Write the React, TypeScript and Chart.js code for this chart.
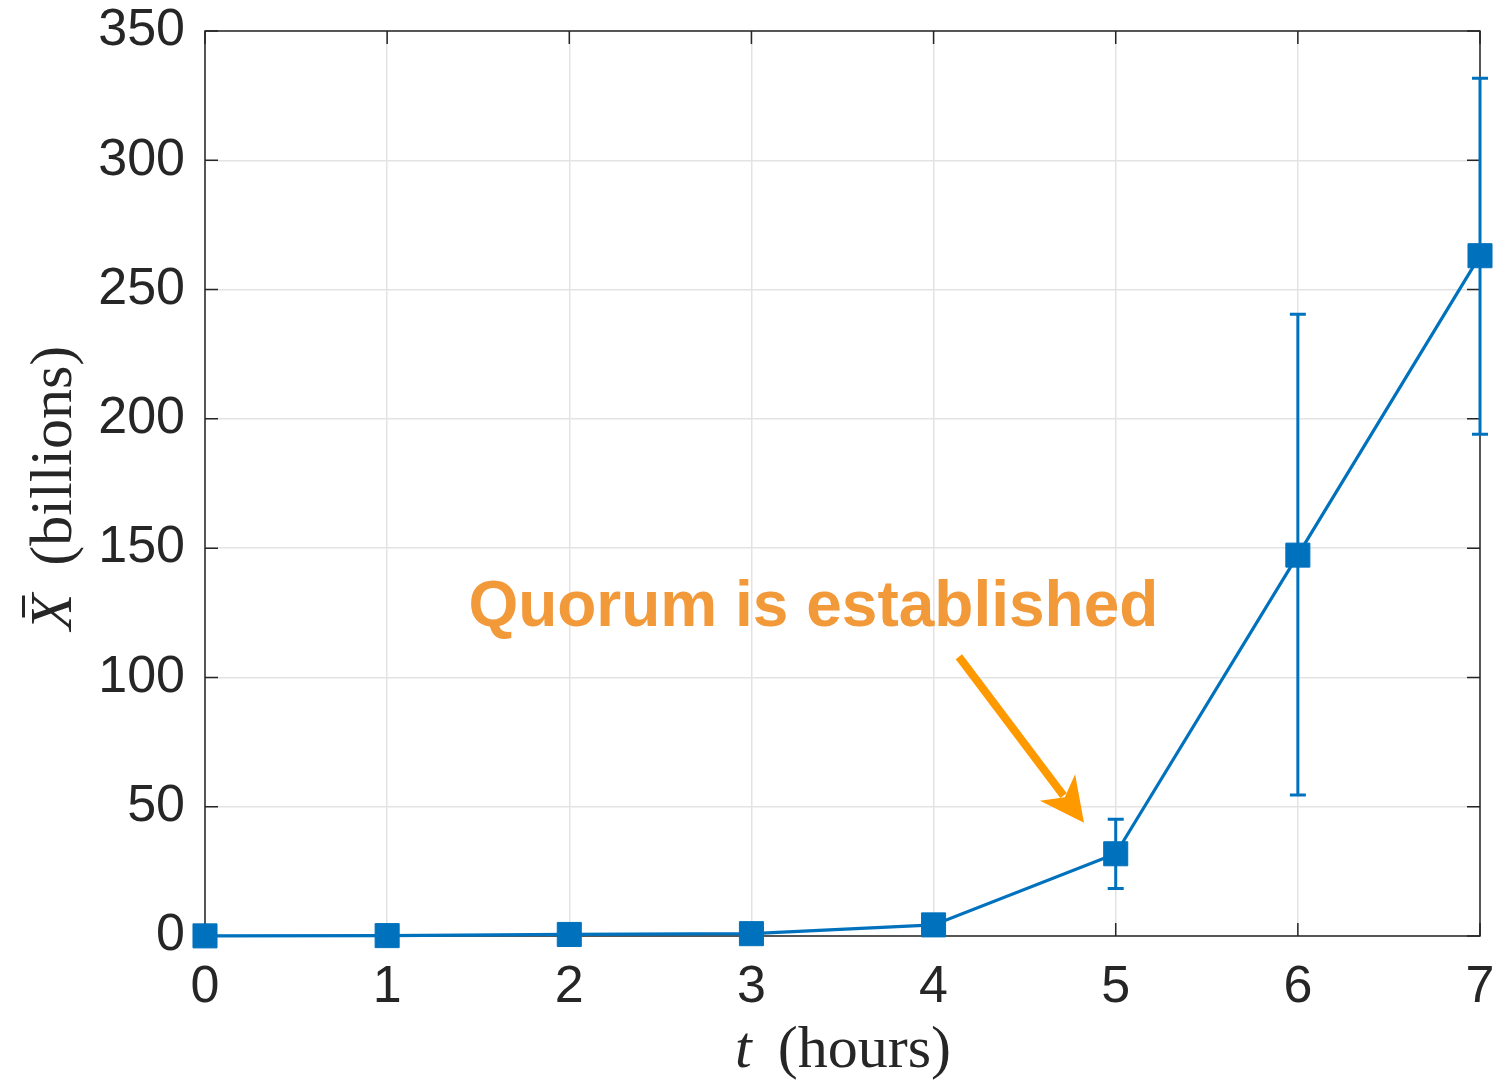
import React, { useEffect, useRef } from 'react';
import { Chart, registerables } from 'chart.js';

Chart.register(...registerables);

// Mean population (billions) sampled every hour, with error bar bounds
const hours = [0, 1, 2, 3, 4, 5, 6, 7];
const meanBillions = [0.05, 0.15, 0.6, 0.9, 4.3, 31.8, 147.3, 263.1];
const errLower: (number | null)[] = [null, null, null, null, null, 18.4, 54.5, 194.0];
const errUpper: (number | null)[] = [null, null, null, null, null, 45.2, 240.5, 331.7];

const xTicks = [0, 1, 2, 3, 4, 5, 6, 7];
const yTicks = [0, 50, 100, 150, 200, 250, 300, 350];

// Callout: label position and arrow (tail -> tip) in data units
const calloutText = 'Quorum is established';
const calloutLabelAt = { x: 3.34, y: 120.0 };
const calloutTail = { x: 4.139, y: 108.0 };
const calloutTip = { x: 4.826, y: 43.8 };

const BLUE = '#0072BD';
const AXIS = '#262626';
const SANS = '"Liberation Sans", Arial, Helvetica, sans-serif';
const SERIF = '"Liberation Serif", "Times New Roman", serif';

const framePlugin = {
  id: 'frame',
  beforeDatasetsDraw(chart: any) {
    const { ctx, chartArea: a, scales } = chart;
    ctx.save();
    ctx.strokeStyle = AXIS;
    ctx.lineWidth = 1.5;
    ctx.strokeRect(a.left, a.top, a.right - a.left, a.bottom - a.top);
    const tl = 13;
    ctx.beginPath();
    for (const v of xTicks) {
      const x = scales.x.getPixelForValue(v);
      ctx.moveTo(x, a.bottom);
      ctx.lineTo(x, a.bottom - tl);
      ctx.moveTo(x, a.top);
      ctx.lineTo(x, a.top + tl);
    }
    for (const v of yTicks) {
      const y = scales.y.getPixelForValue(v);
      ctx.moveTo(a.left, y);
      ctx.lineTo(a.left + tl, y);
      ctx.moveTo(a.right, y);
      ctx.lineTo(a.right - tl, y);
    }
    ctx.stroke();
    ctx.restore();
  },
};

const errorBarPlugin = {
  id: 'errorBars',
  afterDatasetsDraw(chart: any) {
    const { ctx, scales } = chart;
    ctx.save();
    ctx.strokeStyle = BLUE;
    ctx.lineWidth = 3;
    const cap = 8;
    hours.forEach((h, i) => {
      const lo = errLower[i];
      const hi = errUpper[i];
      if (lo == null || hi == null) return;
      const x = scales.x.getPixelForValue(h);
      const y1 = scales.y.getPixelForValue(lo);
      const y2 = scales.y.getPixelForValue(hi);
      ctx.beginPath();
      ctx.moveTo(x, y1);
      ctx.lineTo(x, y2);
      ctx.moveTo(x - cap, y1);
      ctx.lineTo(x + cap, y1);
      ctx.moveTo(x - cap, y2);
      ctx.lineTo(x + cap, y2);
      ctx.stroke();
    });
    ctx.restore();
  },
};

const calloutPlugin = {
  id: 'callout',
  afterDatasetsDraw(chart: any) {
    const { ctx, scales } = chart;
    const sx = scales.x;
    const sy = scales.y;
    ctx.save();
    // label
    ctx.font = `bold 64px ${SANS}`;
    ctx.fillStyle = '#F2993A';
    ctx.textAlign = 'center';
    ctx.textBaseline = 'alphabetic';
    ctx.fillText(calloutText, sx.getPixelForValue(calloutLabelAt.x), sy.getPixelForValue(calloutLabelAt.y));

    // arrow
    const tx = sx.getPixelForValue(calloutTail.x);
    const ty = sy.getPixelForValue(calloutTail.y);
    const px = sx.getPixelForValue(calloutTip.x);
    const py = sy.getPixelForValue(calloutTip.y);
    const len = Math.hypot(px - tx, py - ty);
    const ux = (px - tx) / len;
    const uy = (py - ty) / len;
    const nx = -uy;
    const ny = ux;
    const headLen = 44;
    const headHalf = 22;
    const notch = 32;
    ctx.strokeStyle = '#FF9900';
    ctx.fillStyle = '#FF9900';
    ctx.lineWidth = 8;
    ctx.beginPath();
    ctx.moveTo(tx, ty);
    ctx.lineTo(px - ux * (notch + 2), py - uy * (notch + 2));
    ctx.stroke();
    ctx.beginPath();
    ctx.moveTo(px, py);
    ctx.lineTo(px - ux * headLen + nx * headHalf, py - uy * headLen + ny * headHalf);
    ctx.lineTo(px - ux * notch, py - uy * notch);
    ctx.lineTo(px - ux * headLen - nx * headHalf, py - uy * headLen - ny * headHalf);
    ctx.closePath();
    ctx.fill();
    ctx.restore();
  },
};

const axisTitlePlugin = {
  id: 'axisTitles',
  afterDraw(chart: any) {
    const { ctx } = chart;
    const size = 60;
    ctx.save();
    ctx.fillStyle = AXIS;
    ctx.textBaseline = 'alphabetic';
    ctx.textAlign = 'left';

    // x title: t (hours)
    const roman = `${size}px ${SERIF}`;
    const italic = `italic ${size}px ${SERIF}`;
    ctx.font = italic;
    const tW = ctx.measureText('t').width;
    ctx.font = roman;
    const hW = ctx.measureText('(hours)').width;
    const gapX = 26;
    const xCenter = 843;
    const xBase = 1067;
    const x0 = xCenter - (tW + gapX + hW) / 2;
    ctx.font = italic;
    ctx.fillText('t', x0, xBase);
    ctx.font = roman;
    ctx.fillText('(hours)', x0 + tW + gapX, xBase);

    // y title: X-bar (billions), rotated
    ctx.font = italic;
    const xW = ctx.measureText('X').width;
    ctx.font = roman;
    const bW = ctx.measureText('(billions)').width;
    const gapY = 28;
    const total = xW + gapY + bW;
    ctx.translate(71, 488);
    ctx.rotate(-Math.PI / 2);
    const u0 = -total / 2;
    ctx.font = italic;
    ctx.fillText('X', u0, 0);
    ctx.fillRect(u0 + xW * 0.35, -49, xW * 0.6, 3);
    ctx.font = roman;
    ctx.fillText('(billions)', u0 + xW + gapY, 0);
    ctx.restore();
  },
};

function fixScale(size: 'width' | 'height', value: number) {
  return (scale: any) => {
    scale[size] = value;
    scale.paddingTop = 0;
    scale.paddingBottom = 0;
    scale.paddingLeft = 0;
    scale.paddingRight = 0;
  };
}

export default function App() {
  const canvasRef = useRef<HTMLCanvasElement | null>(null);

  useEffect(() => {
    const canvas = canvasRef.current;
    if (!canvas) return;
    const tickFont = { family: SANS, size: 52 };
    const chart = new Chart(canvas, {
      type: 'line',
      data: {
        datasets: [
          {
            data: hours.map((h, i) => ({ x: h, y: meanBillions[i] })),
            borderColor: BLUE,
            backgroundColor: BLUE,
            borderWidth: 3.2,
            pointStyle: 'rect',
            pointRadius: 17,
            pointBorderWidth: 1,
            pointBackgroundColor: BLUE,
            pointBorderColor: BLUE,
            tension: 0,
            clip: false as any,
          },
        ],
      },
      options: {
        responsive: false,
        animation: false,
        events: [],
        layout: { padding: { top: 31, right: 11, bottom: 0, left: 0 } },
        plugins: {
          legend: { display: false },
          tooltip: { enabled: false },
          title: { display: false },
        },
        scales: {
          x: {
            type: 'linear',
            min: 0,
            max: 7,
            ticks: {
              stepSize: 1,
              autoSkip: false,
              maxRotation: 0,
              font: tickFont,
              color: AXIS,
              padding: 20,
            },
            grid: { color: '#e3e3e3', lineWidth: 1.5, drawTicks: false },
            border: { display: false },
            afterFit: fixScale('height', 146),
          },
          y: {
            type: 'linear',
            min: 0,
            max: 350,
            ticks: {
              stepSize: 50,
              autoSkip: false,
              font: tickFont,
              color: AXIS,
              padding: 20,
            },
            grid: { color: '#e3e3e3', lineWidth: 1.5, drawTicks: false },
            border: { display: false },
            afterFit: fixScale('width', 205),
          },
        },
      },
      plugins: [framePlugin, errorBarPlugin, calloutPlugin, axisTitlePlugin],
    } as any);
    return () => chart.destroy();
  }, []);

  return (
    <canvas
      ref={canvasRef}
      width={1498}
      height={1082}
      style={{ position: 'absolute', left: 0, top: 0, width: 1498, height: 1082, background: '#fff' }}
    />
  );
}
